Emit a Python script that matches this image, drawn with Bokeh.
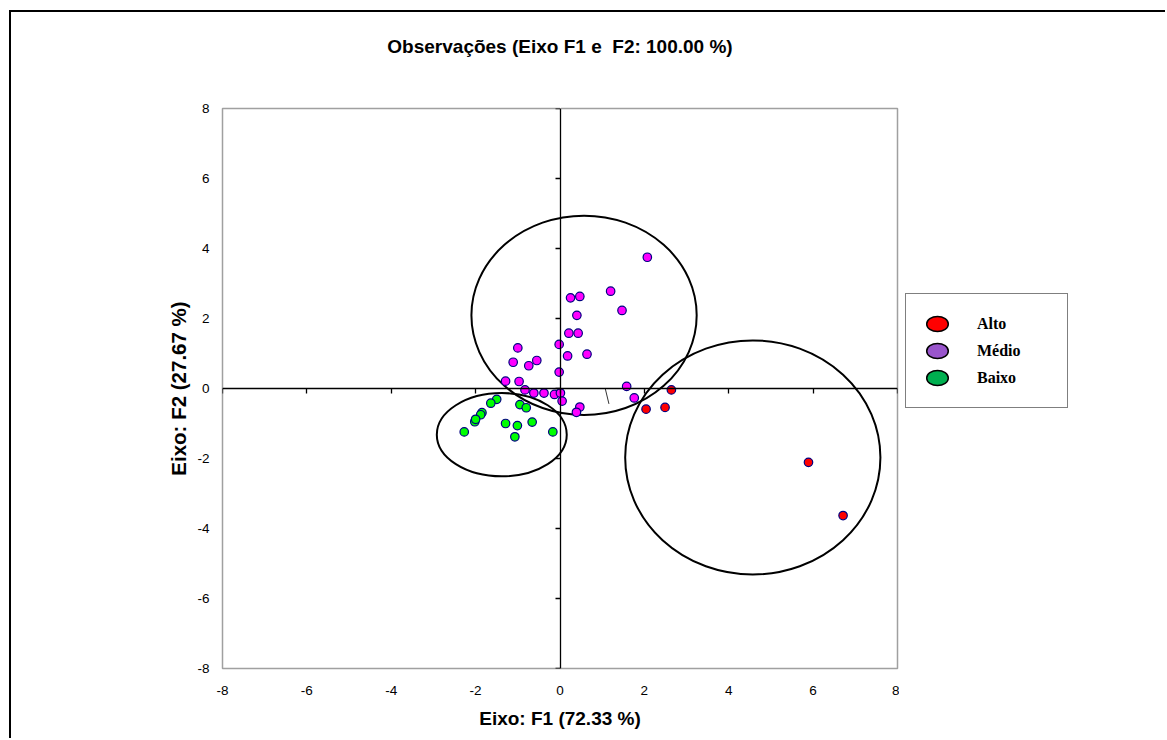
from bokeh.plotting import figure
from bokeh.layouts import row
from bokeh.models import (LinearAxis, FixedTicker, Legend, LegendItem,
                          CustomJSTickFormatter)
from bokeh.embed import file_html
from bokeh.resources import INLINE

# ---- data ----
medio_x = [2.07, 0.25, 0.47, 1.20, 1.47, 0.40, 0.21, 0.43, -0.02, -1.00, 0.18, 0.64,
           -1.11, -0.55, -0.74, -0.02, -1.29, -0.97, 1.58, -0.83, -0.62, -0.38, -0.13,
           0.01, 0.05, 1.76, 0.47, 0.39]
medio_y = [3.75, 2.59, 2.63, 2.78, 2.23, 2.09, 1.58, 1.58, 1.26, 1.16, 0.93, 0.98,
           0.75, 0.80, 0.65, 0.47, 0.21, 0.20, 0.06, -0.04, -0.13, -0.13, -0.17,
           -0.13, -0.36, -0.27, -0.53, -0.68]
alto_x = [2.64, 2.04, 2.49, 5.89, 6.71]
alto_y = [-0.04, -0.59, -0.54, -2.11, -3.63]
baixo_x = [-1.50, -1.64, -1.85, -1.88, -2.02, -2.00, -2.27, -0.95, -0.80, -1.29, -1.01,
           -0.66, -1.07, -0.17]
baixo_y = [-0.31, -0.42, -0.69, -0.75, -0.95, -0.88, -1.24, -0.46, -0.55, -1.00, -1.06,
           -0.96, -1.38, -1.24]

# confidence ellipses: centre x, centre y, width, height (data units)
ell_x = [0.57, -1.38, 4.57]
ell_y = [2.09, -1.32, -1.97]
ell_w = [5.34, 3.08, 6.05]
ell_h = [5.70, 2.38, 6.69]

# small stray stroke
stroke_x0, stroke_y0, stroke_x1, stroke_y1 = [1.07], [0.01], [1.16], [-0.44]

ticks = [-8, -6, -4, -2, 0, 2, 4, 6, 8]
tick_labels = {t: str(t) for t in ticks}
legend_labels = ["Alto", "Médio", "Baixo"]
legend_colors = ["#FF0000", "#9955CC", "#00B050"]

title_text = "Observações (Eixo F1 e\u00a0 F2: 100.00 %)"
xlabel = "Eixo: F1 (72.33 %)"
ylabel = "Eixo: F2 (27.67 %)"

SANS = "Liberation Sans"

p = figure(width=888, height=726, x_range=(-8, 8), y_range=(-8, 8),
           output_backend="svg", toolbar_location=None,
           min_border_left=211, min_border_right=2,
           min_border_top=96, min_border_bottom=70)

p.grid.visible = False
p.outline_line_color = "#A0A0A0"
p.outline_line_width = 1.5
p.background_fill_color = "white"
p.border_fill_color = "white"

# title
p.title.text = title_text
p.title.align = "center"
p.title.text_font = SANS
p.title.text_font_size = "19px"
p.title.text_font_style = "bold"
p.title.text_color = "black"
p.title.standoff = 22

# outer axes: labels only, no ticks, frame acts as line
for ax in (p.xaxis[0], p.yaxis[0]):
    ax.ticker = FixedTicker(ticks=ticks)
    ax.major_label_overrides = tick_labels
    ax.axis_line_color = None
    ax.major_tick_line_color = None
    ax.minor_tick_line_color = None
    ax.major_tick_out = 0
    ax.major_tick_in = 0
    ax.major_label_text_font = SANS
    ax.major_label_text_font_size = "13.5px"
    ax.major_label_text_color = "black"
    ax.axis_label_text_font = SANS
    ax.axis_label_text_font_style = "bold"
    ax.axis_label_text_color = "black"

p.xaxis[0].axis_label = xlabel
p.xaxis[0].major_label_standoff = 17
p.xaxis[0].axis_label_standoff = 10
p.xaxis[0].axis_label_text_font_size = "19px"
p.yaxis[0].axis_label = ylabel
p.yaxis[0].major_label_standoff = 13
p.yaxis[0].major_label_orientation = "horizontal"
p.yaxis[0].axis_label_standoff = 4
p.yaxis[0].axis_label_text_font_size = "20.5px"

blank = CustomJSTickFormatter(code="return ''")

# axes through the origin (ticks only, no labels)
axis_style = dict(ticker=FixedTicker(ticks=ticks), formatter=blank,
                  major_label_standoff=0, major_tick_in=5, major_tick_out=0,
                  minor_tick_line_color=None, axis_line_color="black",
                  axis_line_width=1.3, major_tick_line_color="black",
                  major_tick_line_width=1.3)
p.add_layout(LinearAxis(fixed_location=0, **axis_style), "above")
p.add_layout(LinearAxis(fixed_location=0, **axis_style), "right")

# invisible (white) spacer between frame and title
spacer = LinearAxis(ticker=FixedTicker(ticks=[0]), formatter=blank,
                    major_label_standoff=0, major_tick_in=0, major_tick_out=41,
                    axis_line_color=None, major_tick_line_color="white",
                    major_tick_line_width=1, minor_tick_line_color=None)
p.add_layout(spacer, "above")

# ellipses
p.ellipse(x=ell_x, y=ell_y, width=ell_w, height=ell_h, fill_color=None,
          line_color="black", line_width=2)

p.segment(x0=stroke_x0, y0=stroke_y0, x1=stroke_x1, y1=stroke_y1,
          line_color="#333333", line_width=1)

# points
pt = dict(size=8.5, line_color="#000080", line_width=1.2)
p.scatter(medio_x, medio_y, fill_color="#FF00FF", **pt)
p.scatter(baixo_x, baixo_y, fill_color="#00FF00", **pt)
p.scatter(alto_x, alto_y, fill_color="#FF0000", **pt)

# ---- legend panel (separate canvas to the right) ----
p2 = figure(width=266, height=726, x_range=(0, 1), y_range=(0, 1),
            x_axis_type=None, y_axis_type=None, output_backend="svg",
            toolbar_location=None, min_border=0)
p2.grid.visible = False
p2.outline_line_color = None
p2.border_fill_color = "white"

nan = float("nan")
items = []
for lab, col in zip(legend_labels, legend_colors):
    r = p2.ellipse(x=[nan], y=[nan], width=23, height=16, width_units="screen",
                   height_units="screen", fill_color=col, line_color="black",
                   line_width=1.5)
    items.append(LegendItem(label=lab, renderers=[r]))

leg = Legend(items=items, location=(6, 260), orientation="vertical",
             padding=16, margin=0, spacing=0, glyph_width=30, glyph_height=27,
             label_standoff=25, label_width=74,
             label_text_font="Liberation Serif", label_text_font_style="bold",
             label_text_font_size="16px", label_text_color="black",
             border_line_color="black", border_line_width=1.5,
             background_fill_color="white", background_fill_alpha=1.0)
p2.add_layout(leg, "center")

layout = row(p, p2, spacing=0)
layout.styles = {"border-left": "2px solid black", "border-top": "2px solid black",
                 "margin-left": "9px", "margin-top": "10px"}

open("out.html", "w").write(file_html(layout, INLINE))
